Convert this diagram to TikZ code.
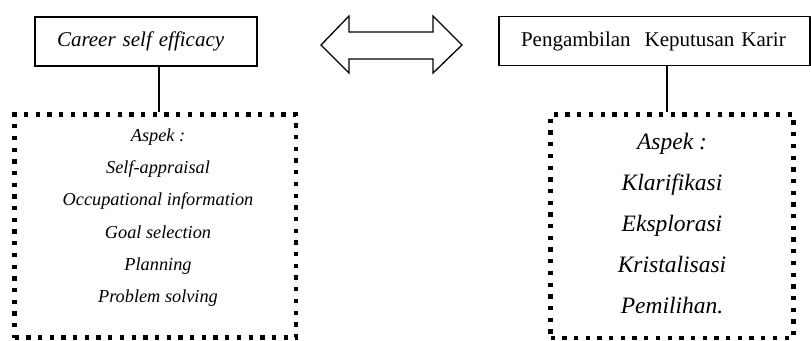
\documentclass[tikz,border=0pt]{standalone}
\usepackage{fontspec}
\setmainfont{Liberation Serif}
\usetikzlibrary{calc}
\begin{document}
\begin{tikzpicture}[x=1pt,y=-1pt,
  topbox/.style={draw, line width=1.3pt, inner sep=0pt, minimum height=49pt, align=left},
  dotbox/.style={draw, line width=4.3pt, dash pattern=on 4.3pt off 7.4pt, line cap=butt, inner sep=0pt},
  lsttxt/.style={align=center, inner sep=0pt},
  conn/.style={line width=1.3pt},
  dblarrow/.style={line width=1.3pt, line join=miter}
]
\useasboundingbox (0,0) rectangle (811,340);
% top boxes
\node[topbox, minimum width=222pt, text width=178pt, font=\fontsize{21}{25}\selectfont\itshape] (cse) at (146,41.5)
  {Career self efficacy};
\node[topbox, minimum width=311pt, text width=267pt, font=\fontsize{21}{25}\selectfont] (pk) at (654.5,41)
  {Pengambilan\ \ Keputusan Karir};
% dotted boxes
\node[dotbox, minimum width=281.5pt, minimum height=223pt] (ldot) at (155.25,226) {};
\node[dotbox, minimum width=243pt, minimum height=223.5pt] (rdot) at (672,226.25) {};
% list texts
\node[lsttxt, font=\fontsize{18.3}{32.2}\selectfont\itshape] (ltxt) at (158,217.5)
  {Aspek :\\ Self-appraisal\\ Occupational information\\ Goal selection\\ Planning\\ Problem solving};
\node[lsttxt, font=\fontsize{23.5}{41}\selectfont\itshape] (rtxt) at (672,224)
  {Aspek :\\ Klarifikasi\\ Eksplorasi\\ Kristalisasi\\ Pemilihan.};
% connectors
\coordinate (lc) at ($(cse.south west)!0.5586!(cse.south east)$);
\coordinate (rc) at ($(pk.south west)!0.5402!(pk.south east)$);
\draw[conn] (lc) -- (lc |- ldot.north);
\draw[conn] (rc) -- (rc |- rdot.north);
% double arrow
\draw[dblarrow] (321,45) -- (349,16) -- (349,32) -- (433,32) -- (433,16) -- (462,45)
  -- (433,73) -- (433,59) -- (349,59) -- (349,73) -- cycle;
\end{tikzpicture}
\end{document}
